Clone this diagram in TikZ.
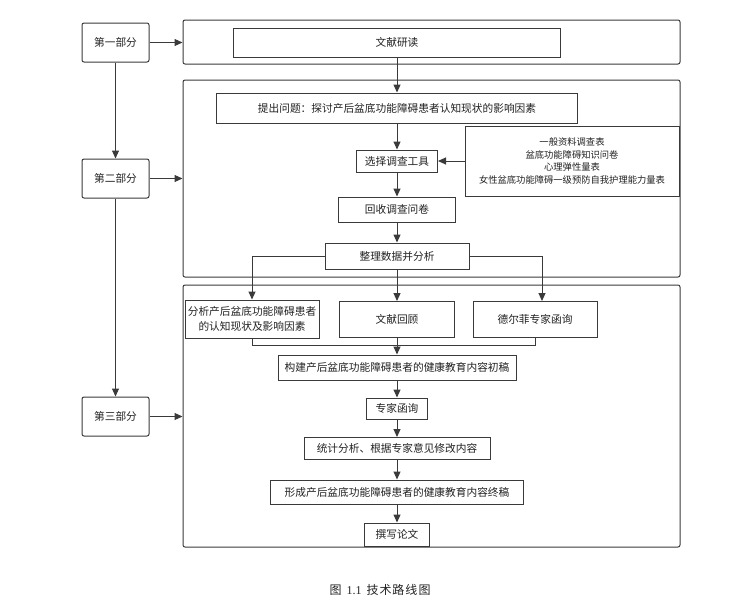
\documentclass[tikz,border=0pt]{standalone}
\usepackage{fontspec}
\setmainfont{Noto Sans CJK SC}
\newfontfamily\capdigits{Liberation Serif}
\usetikzlibrary{arrows.meta}
\definecolor{lc}{HTML}{3A3A3A}
\definecolor{tc}{HTML}{222222}
\begin{document}
\begin{tikzpicture}[x=1pt,y=-1pt,
  every node/.style={text=tc, font=\fontsize{10.7}{15}\selectfont, inner sep=0pt},
  box/.style={draw=lc, line width=1pt, fill=white, align=center},
  part/.style={box, rounded corners=2pt, minimum width=67pt, minimum height=39pt},
  bigbox/.style={draw=lc, line width=1pt, rounded corners=2pt, minimum width=497pt},
  line/.style={draw=lc, line width=1pt},
  arr/.style={line, -{Triangle[length=8pt,width=7pt]}}
]
\useasboundingbox (0,0) rectangle (736,608);

% big frames
\node[bigbox, minimum height=44pt] (b1) at (431.5,42) {};
\node[bigbox, minimum height=197pt] (b2) at (431.5,178.5) {};
\node[bigbox, minimum height=262pt] (b3) at (431.5,416) {};

% part boxes
\node[part] (p1) at (115.5,42.5) {第一部分};
\node[part] (p2) at (115.5,178.5) {第二部分};
\node[part] (p3) at (115.5,416.5) {第三部分};

% inner boxes
\node[box, minimum width=327pt, minimum height=29pt] (wx) at (397,42.5) {文献研读};
\node[box, minimum width=361pt, minimum height=30pt] (tw) at (397,108) {提出问题：探讨产后盆底功能障碍患者认知现状的影响因素};
\node[box, minimum width=81pt, minimum height=22pt] (xz) at (397,161) {选择调查工具};
\node[box, minimum width=214pt, minimum height=70pt, font=\fontsize{9.3}{12.5}\selectfont] (ls) at (572,161) {一般资料调查表\\盆底功能障碍知识问卷\\心理弹性量表\\女性盆底功能障碍一级预防自我护理能力量表};
\node[box, minimum width=117pt, minimum height=25pt] (hs) at (397,209.5) {回收调查问卷};
\node[box, minimum width=144pt, minimum height=26pt] (zl) at (397,256) {整理数据并分析};
\node[box, minimum width=134pt, minimum height=38pt] (fx) at (252,319) {分析产后盆底功能障碍患者\\的认知现状及影响因素};
\node[box, minimum width=115pt, minimum height=36pt] (wh) at (397,319.5) {文献回顾};
\node[box, minimum width=124pt, minimum height=36pt] (de) at (535,319.5) {德尔菲专家函询};
\node[box, minimum width=238pt, minimum height=25pt] (gj) at (397,367.5) {构建产后盆底功能障碍患者的健康教育内容初稿};
\node[box, minimum width=61pt, minimum height=21pt] (zj) at (397,408.5) {专家函询};
\node[box, minimum width=186pt, minimum height=22pt] (tj) at (397,448.5) {统计分析、根据专家意见修改内容};
\node[box, minimum width=253pt, minimum height=24pt] (xc) at (397,492) {形成产后盆底功能障碍患者的健康教育内容终稿};
\node[box, minimum width=65pt, minimum height=23pt] (zx) at (397,534.5) {撰写论文};

% caption
\node[font=\fontsize{12}{14}\selectfont] (cap) at (380,590) {图\hspace{5pt}{\capdigits 1.1}\hspace{5pt}技\hspace{1pt}术\hspace{1pt}路\hspace{1pt}线\hspace{1pt}图};

% connectors
\draw[arr] (p1) -- (b1.west |- p1);
\draw[arr] (p1) -- (p2);
\draw[arr] (p2) -- (b2.west |- p2);
\draw[arr] (p2) -- (p3);
\draw[arr] (p3) -- (b3.west |- p3);

\draw[arr] (wx) -- (tw);
\draw[arr] (tw) -- (xz);
\draw[arr] (ls) -- (xz);
\draw[arr] (xz) -- (hs);
\draw[arr] (hs) -- (zl);
\draw[arr] (zl.west) -| (fx.north);
\draw[arr] (zl) -- (wh);
\draw[arr] (zl.east) -| ([xshift=7pt]de.north);
\draw[line] (fx.south) -- ++(0,7) -| (de.south);
\draw[arr] (wh) -- (gj);
\draw[arr] (gj) -- (zj);
\draw[arr] (zj) -- (tj);
\draw[arr] (tj) -- (xc);
\draw[arr] (xc) -- (zx);
\end{tikzpicture}
\end{document}
